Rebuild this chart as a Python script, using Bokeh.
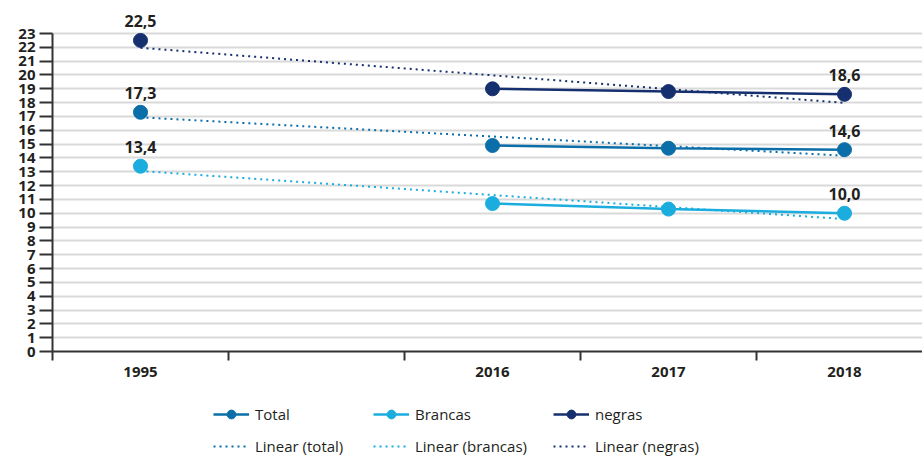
import numpy as np
from bokeh.plotting import figure
from bokeh.layouts import column
from bokeh.models import (Range1d, FixedTicker, Legend, LegendItem, ColumnDataSource)
from bokeh.embed import file_html
from bokeh.resources import INLINE

# Categories (the empty slot keeps the gap between 1995 and 2016)
categories = ["1995", "", "2016", "2017", "2018"]
total = [17.3, None, 14.9, 14.7, 14.6]
brancas = [13.4, None, 10.7, 10.3, 10.0]
negras = [22.5, None, 19.0, 18.8, 18.6]
y_ticks = list(range(0, 24))

c_total = "#0b6ea8"
c_brancas = "#1badde"
c_negras = "#16306f"
txt = "#231f20"
font = "Open Sans"

xs = np.arange(len(categories), dtype=float)

# 13.83 px per unit; the frame reaches the top edge so the labels above
# the highest points stay visible, while the axis itself stops at 23
y_top = 351 / (318 / 23)
p = figure(width=922, height=395, output_backend="svg", toolbar_location=None,
           x_range=Range1d(-0.5, -0.5 + 870 / 176), y_range=Range1d(0, y_top),
           min_border_left=52, min_border_right=0, min_border_top=0,
           min_border_bottom=44)
p.outline_line_color = None
p.background_fill_color = "white"
p.border_fill_color = "white"

# axes
p.xaxis.ticker = FixedTicker(ticks=list(xs), minor_ticks=[i - 0.5 for i in xs])
p.xaxis.major_label_overrides = {int(i): c for i, c in zip(xs, categories)}
p.xaxis.major_tick_out = 0
p.xaxis.major_tick_in = 0
p.xaxis.minor_tick_out = 9
p.xaxis.minor_tick_in = 0
p.xaxis.minor_tick_line_color = "#333333"
p.xaxis.minor_tick_line_width = 2
p.xaxis.axis_line_color = "#333333"
p.xaxis.axis_line_width = 2
p.xaxis.major_label_standoff = 6
p.xaxis.major_label_text_font = font
p.xaxis.major_label_text_font_size = "15px"
p.xaxis.major_label_text_font_style = "bold"
p.xaxis.major_label_text_color = txt

p.yaxis.ticker = FixedTicker(ticks=y_ticks, minor_ticks=[])
p.yaxis.bounds = (0, 23)
p.yaxis.major_tick_out = 13
p.yaxis.major_tick_in = 0
p.yaxis.major_tick_line_color = "#333333"
p.yaxis.major_tick_line_width = 2
p.yaxis.axis_line_color = "#333333"
p.yaxis.axis_line_width = 2
p.yaxis.major_label_standoff = 4
p.yaxis.major_label_text_font = font
p.yaxis.major_label_text_font_size = "15px"
p.yaxis.major_label_text_font_style = "bold"
p.yaxis.major_label_text_color = txt

p.xgrid.grid_line_color = None
p.ygrid.grid_line_color = "#d9d9d9"
p.ygrid.grid_line_width = 2


def as_arr(vals):
    return np.array([np.nan if v is None else v for v in vals], dtype=float)


series = [("Total", "Linear (total)", total, c_total),
          ("Brancas", "Linear (brancas)", brancas, c_brancas),
          ("negras", "Linear (negras)", negras, c_negras)]

for name, trend_name, vals, color in series:
    y = as_arr(vals)
    ok = ~np.isnan(y)
    # least-squares linear trend over the populated slots
    slope, icept = np.polyfit(xs[ok] + 1, y[ok], 1)
    tx = np.array([xs[0], xs[-1]])
    ty = slope * (tx + 1) + icept
    p.line(tx, ty, line_color=color, line_width=2, line_dash="2 4")
    p.line(xs, y, line_color=color, line_width=2.5)
    p.scatter(xs[ok], y[ok], size=14, fill_color=color, line_color=color)

# value labels at the first and last year
lab_x, lab_y, lab_t = [], [], []
for _, _, vals, _ in series:
    for i in (0, len(vals) - 1):
        lab_x.append(xs[i])
        lab_y.append(vals[i])
        lab_t.append(f"{vals[i]:.1f}".replace(".", ","))
src = ColumnDataSource(dict(x=lab_x, y=lab_y, t=lab_t))
p.text("x", "y", text="t", source=src, text_align="center", text_baseline="bottom",
       y_offset=-13, text_font_size="16px", text_color=txt,
       text_font={"value": font}, text_font_style="bold")

# legend strip underneath: three columns, series above its trend line.
# Its key glyphs sit outside the strip's visible range; only the legend shows.
leg = figure(width=922, height=61, output_backend="svg", toolbar_location=None,
             x_range=Range1d(0, 1), y_range=Range1d(0, 1),
             min_border_left=52, min_border_right=0, min_border_top=0,
             min_border_bottom=0)
leg.axis.visible = False
leg.grid.visible = False
leg.outline_line_color = None

off = [-5, -4]
col_x = [213, 373, 553]
for (name, trend_name, _, color), cx in zip(series, col_x):
    ln = leg.line(off, off, line_color=color, line_width=2.5)
    sc = leg.scatter(off, off, size=14, fill_color=color, line_color=color)
    tr = leg.line(off, off, line_color=color, line_width=2, line_dash="2 4")
    lg = Legend(items=[LegendItem(label=name, renderers=[ln, sc], index=0),
                       LegendItem(label=trend_name, renderers=[tr])],
                location=(cx - 52, -1), orientation="vertical",
                padding=0, margin=0, spacing=10,
                glyph_width=36, glyph_height=22, label_height=22,
                label_standoff=6, label_text_font=font,
                label_text_font_size="15px", label_text_color=txt,
                background_fill_alpha=0, border_line_color=None)
    leg.add_layout(lg)

layout = column(p, leg, spacing=0)
open("out.html", "w").write(file_html(layout, INLINE))
